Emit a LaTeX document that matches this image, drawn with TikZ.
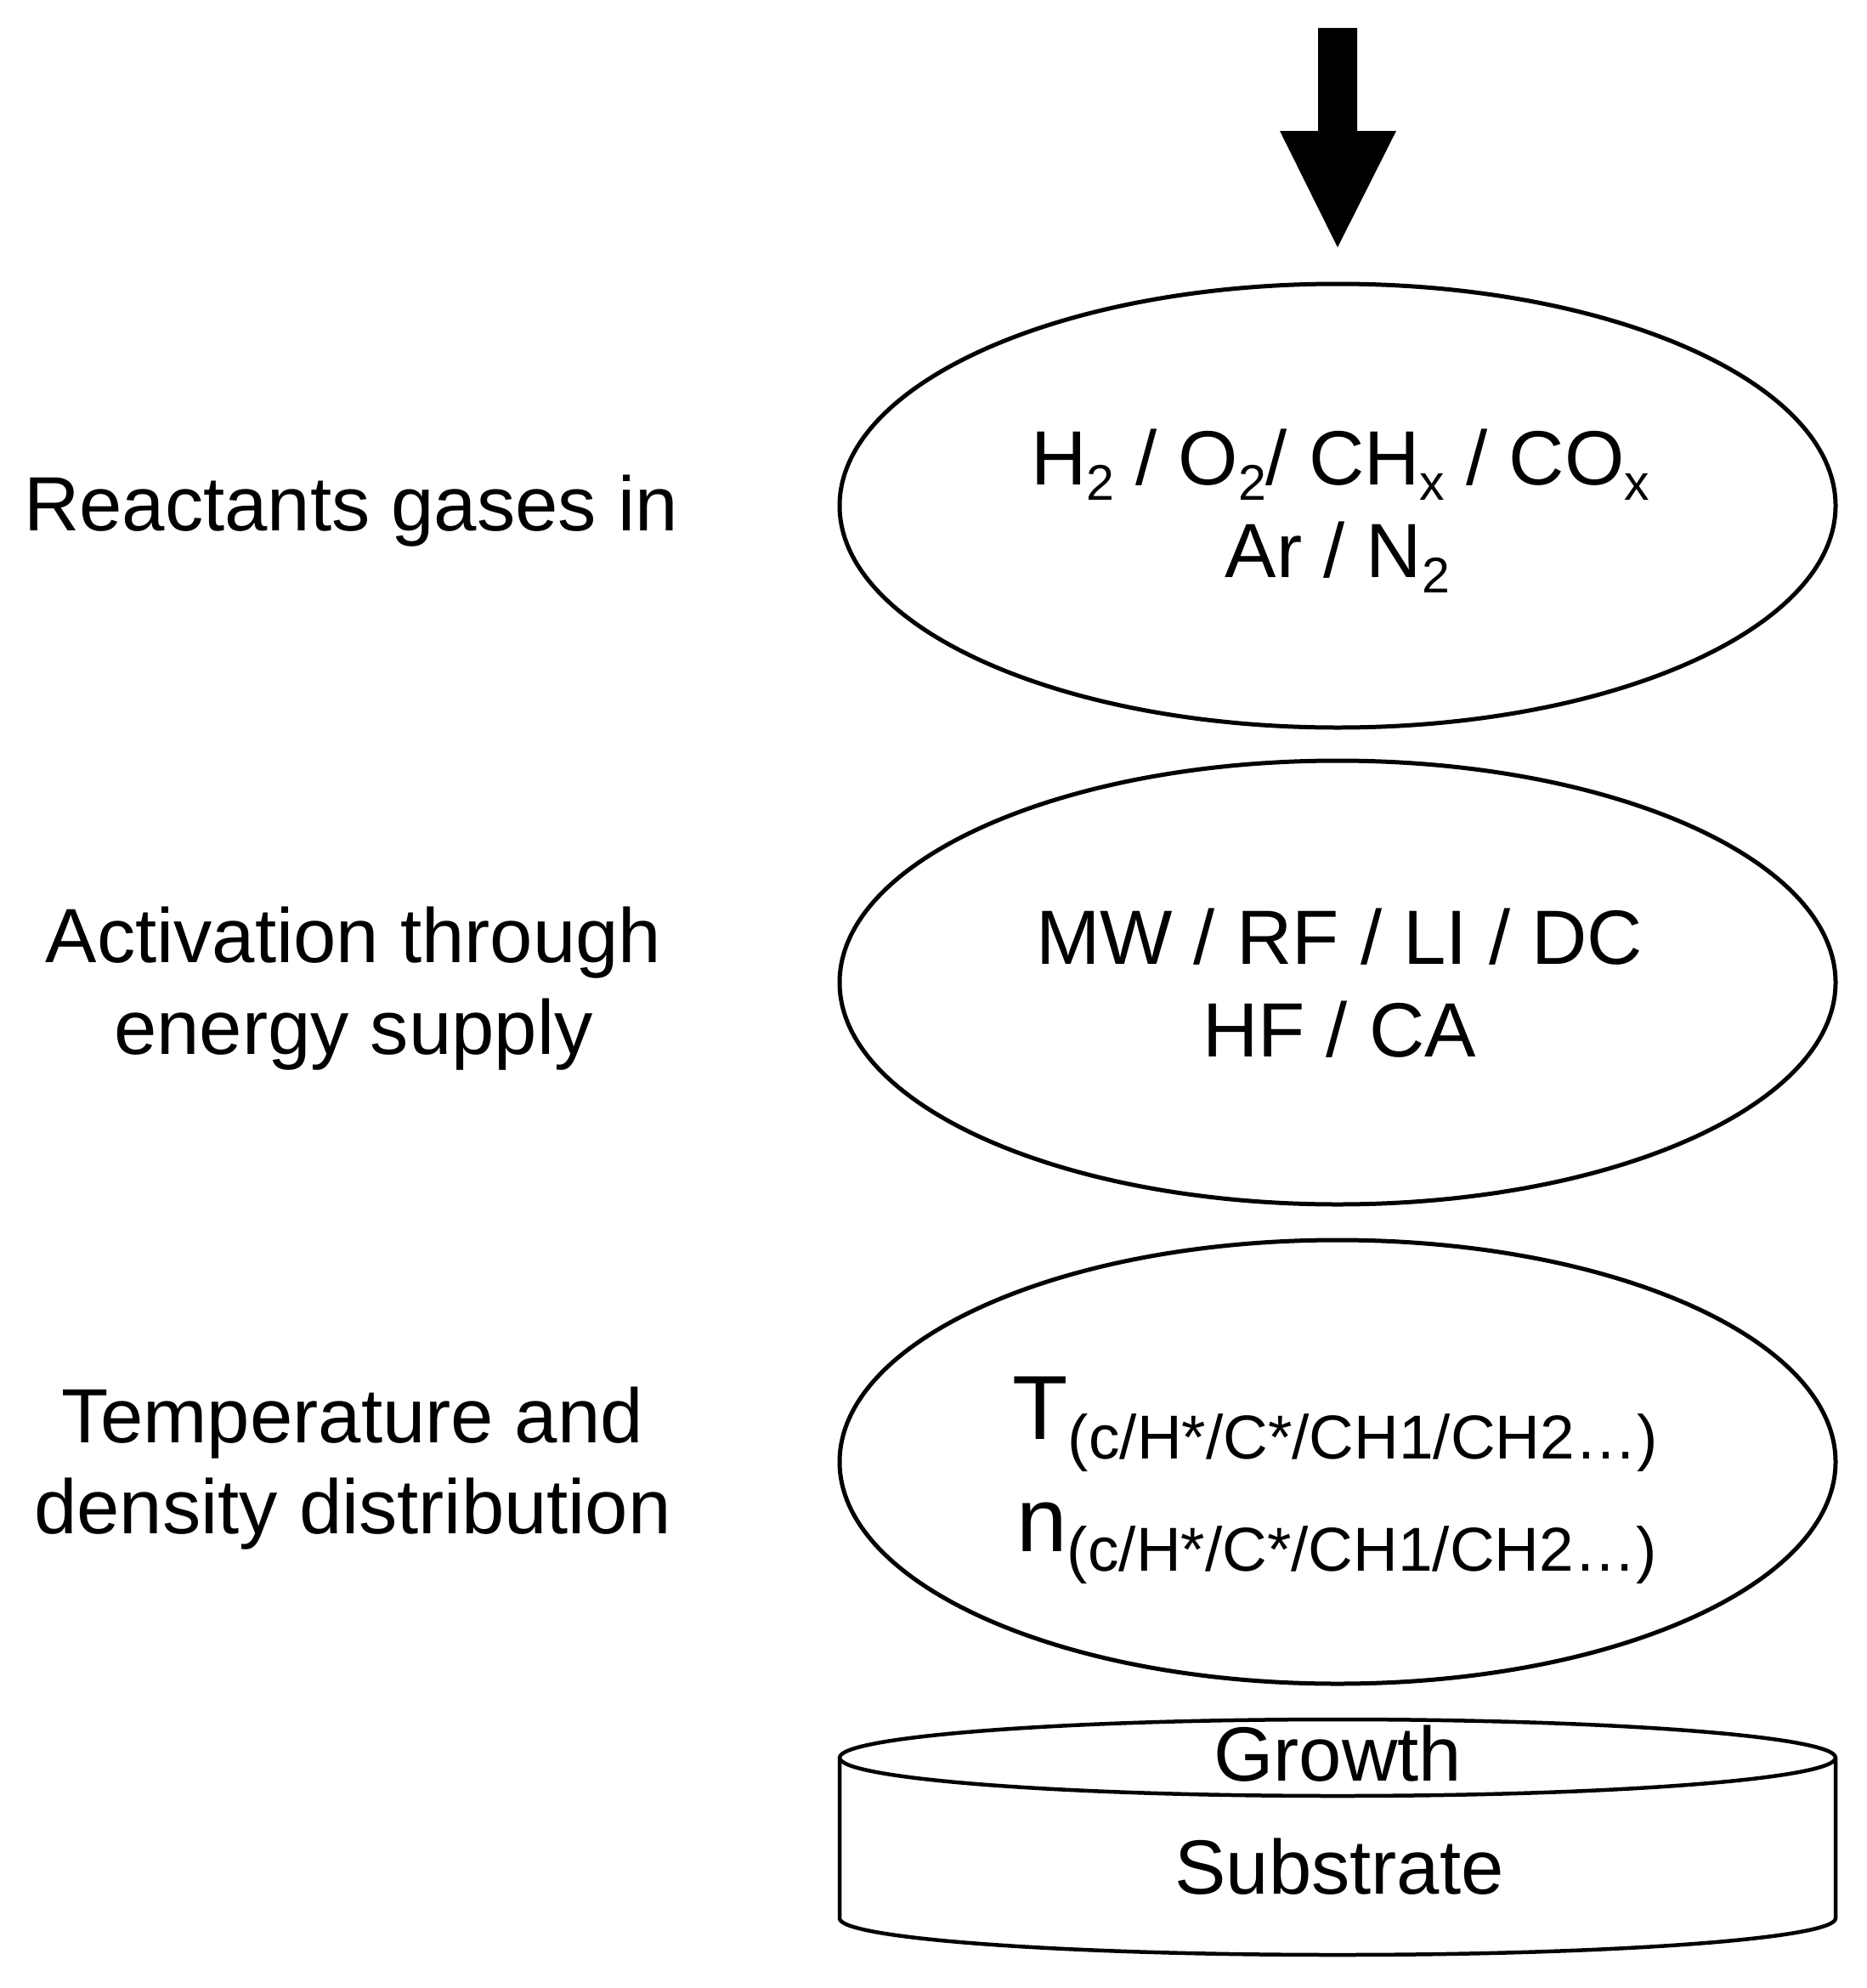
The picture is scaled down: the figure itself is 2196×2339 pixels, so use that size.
\documentclass[tikz,border=0pt]{standalone}
\usepackage{fontspec}
\setmainfont{Liberation Sans}
\usetikzlibrary{shapes.geometric}
\newcommand\txtnorm{\fontsize{90.5}{108}\selectfont}
\newcommand\txtbig{\fontsize{107}{120}\selectfont}
\newcommand\chemsub[1]{\raisebox{-18pt}{\fontsize{59}{59}\selectfont #1}}
\newcommand\speciessub[1]{\raisebox{-23pt}{\fontsize{73}{73}\selectfont #1}}
\begin{document}
\begin{tikzpicture}[x=1pt,y=-1pt,
  stage/.style={ellipse,draw,line width=5pt,minimum width=1172pt,minimum height=522pt,inner sep=0pt,outer sep=0pt},
  lbl/.style={anchor=base,inner sep=0pt,font=\txtnorm},
  bigl/.style={anchor=base,inner sep=0pt,font=\txtbig},
  cyl/.style={line width=4.5pt,line join=round}]
\useasboundingbox (0,0) rectangle (2196,2339);

% input arrow
\fill (1551,33) -- (1597,33) -- (1597,154) -- (1643,154) -- (1574,291) -- (1506,154) -- (1551,154) -- cycle;

% stages
\node[stage] (e1) at (1574,595) {};
\node[stage] (e2) at (1574,1156) {};
\node[stage] (e3) at (1574,1720) {};

% texts in stages
\node[lbl] (g1) at (1577,570) {H\chemsub{2} / O\chemsub{2}/ CH\chemsub{x} / CO\chemsub{x}};
\node[lbl] (g2) at (1574,679) {Ar / N\chemsub{2}};
\node[lbl] (a1) at (1576,1134) {MW / RF / LI / DC};
\node[lbl] (a2) at (1576,1243) {HF / CA};
\node[bigl] (t1) at (1571,1693) {T\speciessub{(c/H*/C*/CH1/CH2…)}};
\node[bigl] (t2) at (1573,1825) {n\speciessub{(c/H*/C*/CH1/CH2…)}};

% left labels
\node[lbl] (l1) at (413,624) {Reactants gases in};
\node[lbl] (l2a) at (416,1132) {Activation through};
\node[lbl] (l2b) at (416,1240) {energy supply};
\node[lbl] (l3a) at (415,1697) {Temperature and};
\node[lbl] (l3b) at (415,1804) {density distribution};

% substrate cylinder
\draw[cyl,fill=white] (988,2068) -- (988,2257) arc[start angle=180,end angle=360,x radius=586pt,y radius=43pt] -- (2160,2068);
\draw[cyl] (1574,2068) ellipse [x radius=586pt, y radius=45pt];
\node[lbl] (gr) at (1574,2095) {Growth};
\node[lbl] (sb) at (1576,2228) {Substrate};
\end{tikzpicture}
\end{document}
